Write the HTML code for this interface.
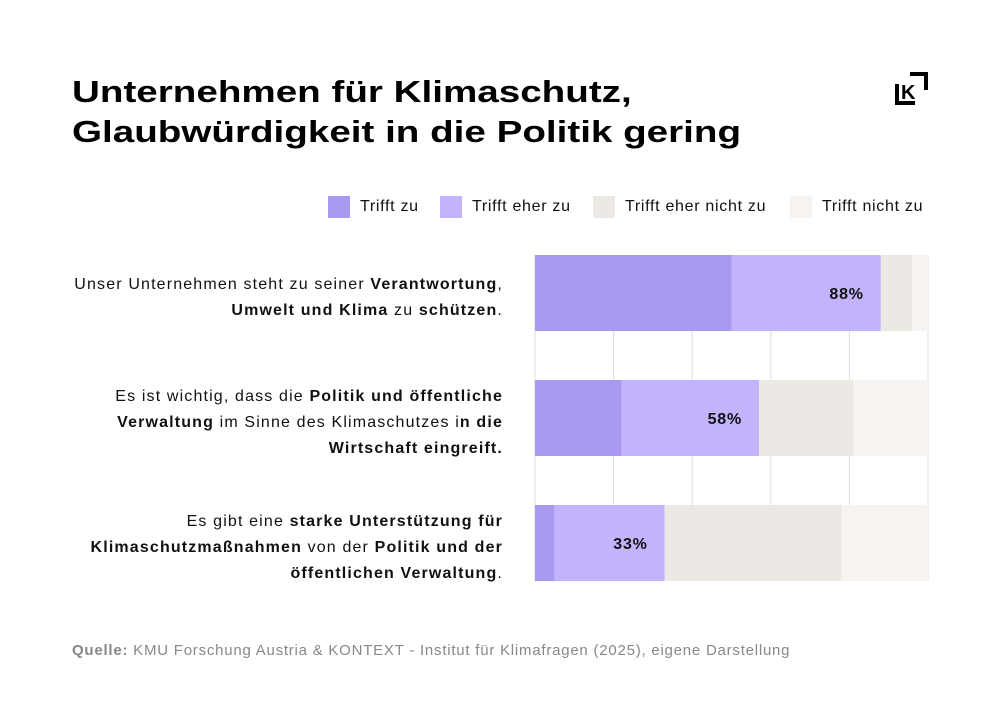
<!DOCTYPE html>
<html><head><meta charset="utf-8"><style>
body{margin:0;width:1000px;height:714px;background:#fff;font-family:"Liberation Sans",sans-serif;position:relative;overflow:hidden}
h1{position:absolute;left:72px;top:72px;margin:0;font-size:31px;line-height:40px;font-weight:bold;color:#000;transform:scaleX(1.245);transform-origin:left top;white-space:nowrap}
.lab{position:absolute;right:497px;text-align:right;font-size:16px;line-height:26px;color:#111;letter-spacing:1.15px;white-space:nowrap}
.leg{position:absolute;top:196px;font-size:16px;color:#111;display:flex;align-items:center;letter-spacing:0.7px;white-space:nowrap}
.sw{width:22px;height:22px;margin-right:10px;display:inline-block}
.src{position:absolute;left:72px;top:642px;font-size:15px;color:#888;letter-spacing:0.77px;white-space:nowrap}
</style></head><body>
<h1>Unternehmen für Klimaschutz,<br>Glaubwürdigkeit in die Politik gering</h1>
<svg style="position:absolute;left:893px;top:70px" width="38" height="38">
<path d="M4 14 V33 H22" stroke="#000" stroke-width="4" fill="none"/>
<path d="M17 4 H33 V20" stroke="#000" stroke-width="4" fill="none"/>
<text x="8" y="29" font-family="Liberation Sans" font-weight="bold" font-size="20">K</text>
</svg>
<div class="leg" style="left:328px"><span class="sw" style="background:#a999ef"></span>Trifft zu</div>
<div class="leg" style="left:440px"><span class="sw" style="background:#c2b3fc"></span>Trifft eher zu</div>
<div class="leg" style="left:593px"><span class="sw" style="background:#ece8e3"></span>Trifft eher nicht zu</div>
<div class="leg" style="left:790px"><span class="sw" style="background:#f6f3f1"></span>Trifft nicht zu</div>
<div class="lab" style="top:272px">Unser Unternehmen steht zu seiner <b>Verantwortung</b>,<br><b>Umwelt und Klima</b> zu <b>schützen</b>.</div>
<div class="lab" style="top:384px">Es ist wichtig, dass die <b>Politik und öffentliche</b><br><b>Verwaltung</b> im Sinne des Klimaschutzes i<b>n die</b><br><b>Wirtschaft eingreift.</b></div>
<div class="lab" style="top:509px">Es gibt eine <b>starke Unterstützung für</b><br><b>Klimaschutzmaßnahmen</b> von der <b>Politik und der</b><br><b>öffentlichen Verwaltung</b>.</div>
<svg id="chart" style="position:absolute;left:0;top:0" width="1000" height="714"></svg>
<div class="src"><b>Quelle:</b> KMU Forschung Austria &amp; KONTEXT - Institut für Klimafragen (2025), eigene Darstellung</div>
<script>
const categories=["Verantwortung","Politik eingreift","Unterstützung"];
const trifftZu=[50,22,5];
const trifftEherZu=[38,35,28];
const eherNicht=[8,24,45];
const nicht=[4,19,22];
const totals=["88%","58%","33%"];
const ticks=[0,20,40,60,80,100];
const NS="http://www.w3.org/2000/svg";
const svg=document.getElementById('chart');
const x0=535,x1=928,yTop=255,step=125,bh=76;
const xs=v=>x0+(x1-x0)*v/100;
const ys=i=>yTop+i*step;
ticks.forEach(t=>{const l=document.createElementNS(NS,'line');


l.setAttribute('x1',xs(t));l.setAttribute('x2',xs(t));l.setAttribute('y1',ys(0));l.setAttribute('y2',ys(2)+bh);
l.setAttribute('stroke','#ddd');l.setAttribute('stroke-width','1');svg.appendChild(l);});
const series=[trifftZu,trifftEherZu,eherNicht,nicht];
const cols=["#a999ef","#c2b3fc","#ece8e3","#f6f3f1"];
const names=["trifft-zu","trifft-eher-zu","eher-nicht-zu","nicht-zu"];
categories.forEach((c,i)=>{let acc=0;
series.forEach((s,k)=>{const r=document.createElementNS(NS,'rect');


r.setAttribute('x',xs(acc));r.setAttribute('width',xs(acc+s[i])-xs(acc));r.setAttribute('y',ys(i));r.setAttribute('height',bh);r.setAttribute('fill',cols[k]);svg.appendChild(r);acc+=s[i];});
const t=document.createElementNS(NS,'text');


t.setAttribute('x',xs(trifftZu[i]+trifftEherZu[i])-17);t.setAttribute('y',ys(i)+bh/2+6);t.setAttribute('text-anchor','end');
t.setAttribute('font-family','Liberation Sans');t.setAttribute('font-weight','bold');t.setAttribute('font-size','16');t.setAttribute('fill','#111');t.setAttribute('letter-spacing','0.8');
t.textContent=totals[i];svg.appendChild(t);});
</script>
</body></html>
